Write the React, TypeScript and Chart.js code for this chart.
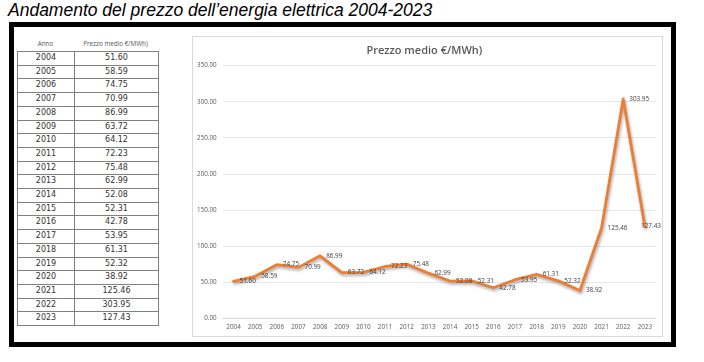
import React, { useEffect, useRef } from "react";
import { Chart, registerables } from "chart.js";

Chart.register(...registerables);

const pageTitle = "Andamento del prezzo dell’energia elettrica 2004-2023";
const chartTitle = "Prezzo medio €/MWh)";
const tableHeaders = ["Anno", "Prezzo medio €/MWh)"];
const years = [
  "2004", "2005", "2006", "2007", "2008", "2009", "2010", "2011", "2012", "2013",
  "2014", "2015", "2016", "2017", "2018", "2019", "2020", "2021", "2022", "2023",
];
const prices = [
  51.6, 58.59, 74.75, 70.99, 86.99, 63.72, 64.12, 72.23, 75.48, 62.99,
  52.08, 52.31, 42.78, 53.95, 61.31, 52.32, 38.92, 125.46, 303.95, 127.43,
];
const yMin = 0;
const yMax = 350;
const yStep = 50;

const tickFont = { family: "'Open Sans', sans-serif", size: 6.3 };
const tickColor = "#595959";

const shadowPlugin = {
  id: "lineShadow",
  beforeDatasetDraw(chart: any) {
    const c = chart.ctx;
    c.save();
    c.shadowColor = "rgba(0,0,0,0.35)";
    c.shadowBlur = 3;
    c.shadowOffsetX = 1;
    c.shadowOffsetY = 2;
  },
  afterDatasetDraw(chart: any) {
    chart.ctx.restore();
  },
};

const valueLabelPlugin = {
  id: "valueLabels",
  afterDatasetsDraw(chart: any) {
    const c = chart.ctx;
    const meta = chart.getDatasetMeta(0);
    c.save();
    c.font = "6.4px 'Open Sans', sans-serif";
    c.fillStyle = "#404040";
    c.textAlign = "left";
    c.textBaseline = "middle";
    meta.data.forEach((pt: any, i: number) => {
      const txt = prices[i].toFixed(2);
      const w = c.measureText(txt).width;
      const x = Math.min(pt.x + 6, chart.width - w - 1);
      c.fillText(txt, x, pt.y);
    });
    c.restore();
  },
};

function LineChart() {
  const ref = useRef<HTMLCanvasElement | null>(null);
  useEffect(() => {
    if (!ref.current) return;
    const chart = new Chart(ref.current, {
      type: "line",
      data: {
        labels: years,
        datasets: [
          {
            data: prices,
            borderColor: "#ED7D31",
            borderWidth: 2.8,
            borderCapStyle: "round",
            borderJoinStyle: "round",
            pointRadius: 0,
            tension: 0,
            fill: false,
          },
        ],
      },
      options: {
        animation: false,
        responsive: false,
        maintainAspectRatio: false,
        layout: { padding: { left: 0, right: 6.3, top: 0, bottom: 0 } },
        plugins: {
          legend: { display: false },
          tooltip: { enabled: false },
          title: {
            display: true,
            text: chartTitle,
            color: "#595959",
            font: { family: "'Open Sans', sans-serif", size: 11, weight: "600" },
            padding: { top: 7, bottom: 8.5 },
          },
        },
        scales: {
          x: {
            offset: true,
            grid: { display: false, drawTicks: false },
            border: { display: true, color: "#d9d9d9", width: 1 },
            ticks: {
              color: tickColor,
              font: tickFont,
              padding: 5,
              maxRotation: 0,
              autoSkip: false,
            },
            afterFit(scale: any) {
              scale.height = 17.3;
            },
          },
          y: {
            min: yMin,
            max: yMax,
            grid: { color: "#e8e8e8", drawTicks: false, lineWidth: 1 },
            border: { display: false },
            ticks: {
              stepSize: yStep,
              color: tickColor,
              font: tickFont,
              padding: 6,
              callback: (v: any) => Number(v).toFixed(2),
            },
            afterFit(scale: any) {
              scale.width = 29.7;
            },
          },
        },
      },
      plugins: [shadowPlugin, valueLabelPlugin],
    });
    return () => chart.destroy();
  }, []);
  return <canvas ref={ref} width={469} height={299} style={{ display: "block", width: 469, height: 299 }} />;
}

export default function App() {
  const rowH = 13.7;
  return (
    <div style={{ position: "absolute", left: 0, top: 0, width: 704, height: 362, background: "#fff", overflow: "hidden" }}>
      <div
        style={{
          position: "absolute",
          left: 8,
          top: 0,
          fontFamily: "'Liberation Sans', Arial, sans-serif",
          fontStyle: "italic",
          fontSize: 17.5,
          lineHeight: "20px",
          color: "#000",
          whiteSpace: "nowrap",
        }}
      >
        {pageTitle}
      </div>
      <div
        style={{
          position: "absolute",
          left: 9,
          top: 22,
          width: 667,
          height: 325,
          boxSizing: "border-box",
          border: "5px solid #000",
          background: "#fff",
        }}
      />
      <div style={{ position: "absolute", left: 17, top: 40, width: 57, textAlign: "center", fontFamily: "'Open Sans', sans-serif", fontSize: 6.3, color: "#555", lineHeight: "8px" }}>
        {tableHeaders[0]}
      </div>
      <div style={{ position: "absolute", left: 74, top: 40, width: 83, textAlign: "center", fontFamily: "'Open Sans', sans-serif", fontSize: 6.3, color: "#555", lineHeight: "8px", whiteSpace: "nowrap" }}>
        {tableHeaders[1]}
      </div>
      <table
        style={{
          position: "absolute",
          left: 17,
          top: 51,
          width: 141,
          borderCollapse: "collapse",
          fontFamily: "'DejaVu Sans', Verdana, sans-serif",
          fontSize: 8,
          color: "#333",
          tableLayout: "fixed",
        }}
      >
        <colgroup>
          <col style={{ width: 57 }} />
          <col style={{ width: 84 }} />
        </colgroup>
        <tbody>
          {years.map((y, i) => (
            <tr key={y} style={{ height: rowH }}>
              <td style={{ border: "1px solid #808080", textAlign: "center", padding: 0, height: rowH - 1, lineHeight: `${rowH - 1}px` }}>{y}</td>
              <td style={{ border: "1px solid #808080", textAlign: "center", padding: 0, height: rowH - 1, lineHeight: `${rowH - 1}px` }}>
                {prices[i].toFixed(2)}
              </td>
            </tr>
          ))}
        </tbody>
      </table>
      <div
        style={{
          position: "absolute",
          left: 192,
          top: 36,
          width: 471,
          height: 301,
          boxSizing: "border-box",
          border: "1px solid #d9d9d9",
          background: "#fff",
        }}
      >
        <LineChart />
      </div>
    </div>
  );
}
